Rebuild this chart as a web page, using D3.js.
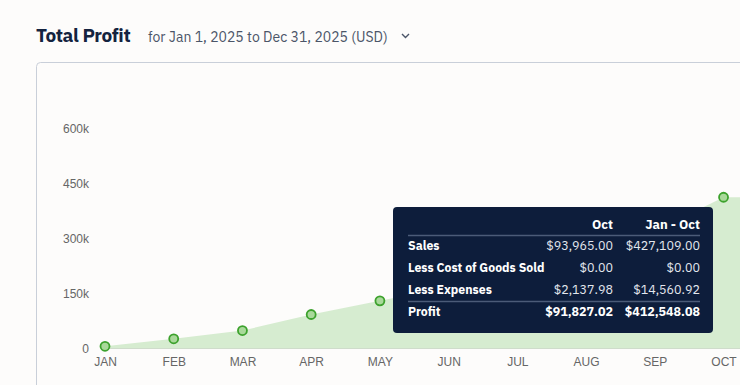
<!DOCTYPE html>
<html>
<head>
<meta charset="utf-8">
<script src="https://cdn.jsdelivr.net/npm/d3@7"></script>
<style>
  html, body { margin: 0; padding: 0; background: #fdfcfb; overflow: hidden; }
  body { width: 740px; height: 385px; font-family: "IBM Plex Sans", Inter, "Noto Sans", sans-serif; }
</style>
</head>
<body>
<div id="chart"></div>
<script>
(function () {
  // ---------- data ----------
  var months = ['JAN', 'FEB', 'MAR', 'APR', 'MAY', 'JUN', 'JUL', 'AUG', 'SEP', 'OCT', 'NOV', 'DEC'];
  var cumProfit = [6000, 26500, 49000, 92700, 130000, 168000, 208000, 258000, 320721, 412548, 412548, 412548];
  var yTicks = [0, 150000, 300000, 450000, 600000];
  var tipCols = ['Oct', 'Jan - Oct'];
  var tipLabels = ['Sales', 'Less Cost of Goods Sold', 'Less Expenses', 'Profit'];
  var tipMonth = ['$93,965.00', '$0.00', '$2,137.98', '$91,827.02'];
  var tipYtd = ['$427,109.00', '$0.00', '$14,560.92', '$412,548.08'];
  var shownPoints = 10;

  var W = 740, H = 385, INK = '#14233f';
  var svg = d3.select('#chart').append('svg').attr('width', W).attr('height', H);

  // ---------- header ----------
  svg.append('text').attr('x', 36).attr('y', 42).attr('font-size', 19).attr('font-weight', 700)
    .attr('fill', INK).attr('letter-spacing', -0.4).text('Total Profit');
  svg.append('text').attr('x', 148).attr('y', 42).attr('font-size', 14).attr('fill', '#4b5568')
    .text('for Jan 1, 2025 to Dec 31, 2025 (USD)');
  svg.append('path').attr('d', 'M402,34 l3.5,3.5 l3.5,-3.5').attr('fill', 'none').attr('stroke', '#4b5568').attr('stroke-width', 1.4);

  // ---------- card ----------
  svg.append('rect').attr('x', 36.5).attr('y', 62.5).attr('width', 760).attr('height', 400).attr('rx', 4)
    .attr('fill', '#fdfcfb').attr('stroke', '#c9cfd9');

  // ---------- scales ----------
  var x = d3.scalePoint().domain(months).range([105, 861]);
  var y = d3.scaleLinear().domain([0, 600000]).range([348.5, 128.5]);

  var fmt = function (v) { return v === 0 ? '0' : (v / 1000) + 'k'; };
  var ya = svg.append('g').attr('transform', 'translate(89,0)')
    .call(d3.axisLeft(y).tickValues(yTicks).tickFormat(fmt).tickSize(0).tickPadding(0));
  ya.select('.domain').remove();
  ya.selectAll('text').attr('fill', '#666').attr('font-size', 12).attr('font-family', 'inherit');

  // only the months that fit inside the visible window get a label
  var visibleMonths = months.filter(function (m) { return x(m) + 16 < W; });
  var xa = svg.append('g').attr('transform', 'translate(0,357)')
    .call(d3.axisBottom(x).tickValues(visibleMonths).tickSize(0).tickPadding(0));
  xa.select('.domain').remove();
  xa.selectAll('text').attr('fill', '#666').attr('font-size', 12).attr('font-family', 'inherit').attr('dy', '0.71em');

  // ---------- area ----------
  var area = d3.area().x(function (d, i) { return x(months[i]); }).y0(y(0)).y1(function (d) { return y(d); });
  svg.append('path').datum(cumProfit).attr('d', area).attr('fill', '#d6ecd0');
  svg.append('line').attr('x1', x('JAN')).attr('x2', x('DEC')).attr('y1', y(0)).attr('y2', y(0))
    .attr('stroke', '#cfdccb').attr('stroke-width', 1);

  svg.append('g').selectAll('circle').data(cumProfit.slice(0, shownPoints)).join('circle')
    .attr('cx', function (d, i) { return x(months[i]); }).attr('cy', function (d) { return y(d); })
    .attr('r', 4.5).attr('fill', '#a9d99a').attr('stroke', '#3da22d').attr('stroke-width', 1.8);

  // ---------- tooltip ----------
  var tx = 393, ty = 207, tw = 320, th = 126;
  var tip = svg.append('g');
  tip.append('rect').attr('x', tx).attr('y', ty).attr('width', tw).attr('height', th).attr('rx', 4).attr('fill', '#0d1d3b');
  var lx = 408, c1 = 613, c2 = 700;
  tip.selectAll('text.hd').data(tipCols).join('text').attr('class', 'hd')
    .attr('x', function (d, i) { return i ? c2 : c1; }).attr('y', 229).attr('text-anchor', 'end')
    .attr('font-size', 13).attr('font-weight', 700).attr('fill', '#fff').text(function (d) { return d; });
  [235.5, 301.5].forEach(function (ly) {
    tip.append('line').attr('x1', lx).attr('x2', c2).attr('y1', ly).attr('y2', ly).attr('stroke', '#4b5b78').attr('stroke-width', 1.5);
  });
  var rowY = [250, 272, 294, 316];
  tipLabels.forEach(function (lab, i) {
    var bold = i === 3;
    tip.append('text').attr('x', lx).attr('y', rowY[i]).attr('font-size', 12.3).attr('font-weight', 700).attr('fill', '#fff').text(lab);
    tip.append('text').attr('x', c1).attr('y', rowY[i]).attr('text-anchor', 'end').attr('font-size', 12.5)
      .attr('font-weight', bold ? 700 : 400).attr('fill', bold ? '#fff' : '#e3e7ee').text(tipMonth[i]);
    tip.append('text').attr('x', c2).attr('y', rowY[i]).attr('text-anchor', 'end').attr('font-size', 12.5)
      .attr('font-weight', bold ? 700 : 400).attr('fill', bold ? '#fff' : '#e3e7ee').text(tipYtd[i]);
  });
})();
</script>
</body>
</html>
